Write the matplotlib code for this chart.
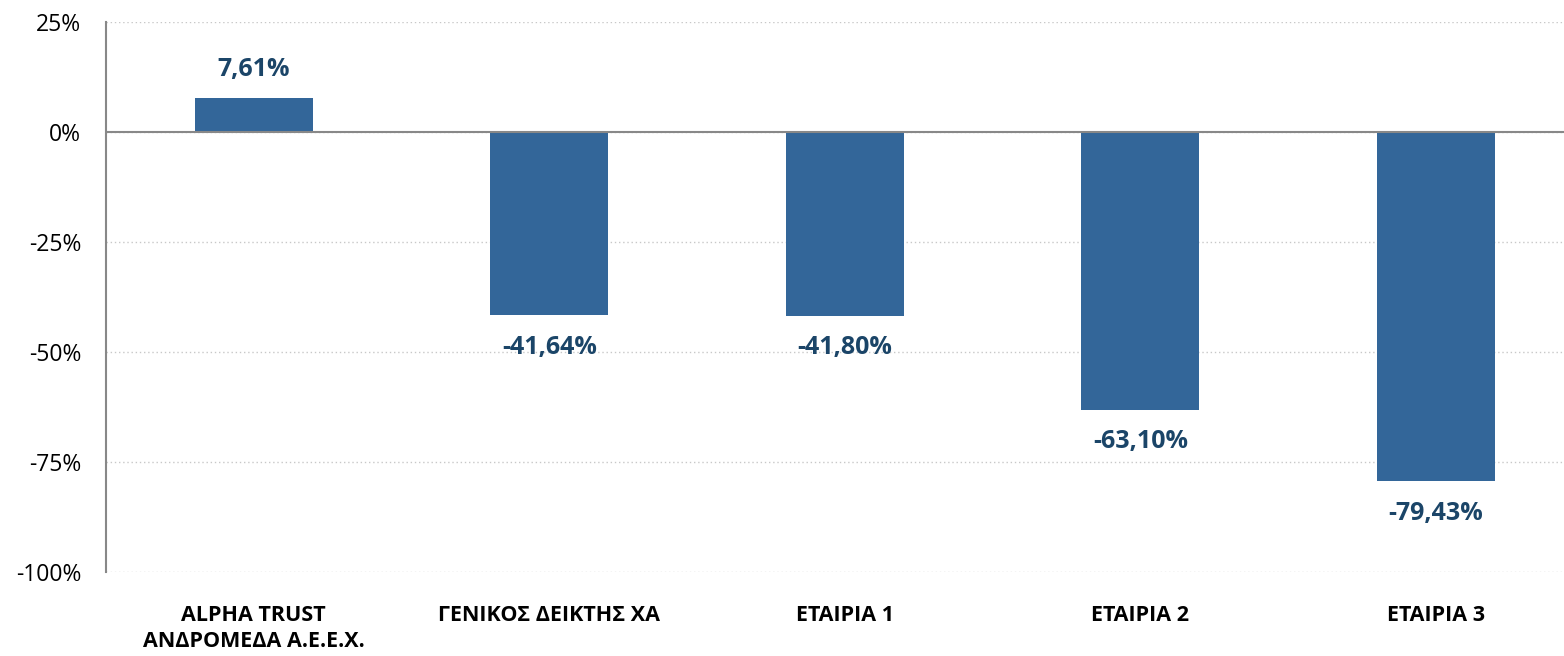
import matplotlib.pyplot as plt
from matplotlib.ticker import FuncFormatter

# Returns per company / index
categories = ['ALPHA TRUST\nΑΝΔΡΟΜΕΔΑ Α.Ε.Ε.Χ.', 'ΓΕΝΙΚΟΣ ΔΕΙΚΤΗΣ ΧΑ', 'ΕΤΑΙΡΙΑ 1', 'ΕΤΑΙΡΙΑ 2', 'ΕΤΑΙΡΙΑ 3']
returns = [7.61, -41.64, -41.80, -63.10, -79.43]
y_ticks = [25, 0, -25, -50, -75, -100]

plt.rcParams['font.family'] = ['Open Sans', 'DejaVu Sans']

fig = plt.figure(figsize=(15.64, 6.56), dpi=100)
# axes runs a bit past the right edge, like the original
ax = fig.add_axes([0.0678, 0.128, 0.9447, 0.8387])

x = range(len(categories))
bars = ax.bar(x, returns, width=0.40, color='#336699', zorder=3)

# value labels
for xi, v in zip(x, returns):
    txt = f'{v:.2f}%'.replace('.', ',')
    if v >= 0:
        ax.annotate(txt, (xi, v), xytext=(0, 12), textcoords='offset points',
                    ha='center', va='bottom', fontsize=18, fontweight='bold', color='#1B4568')
    else:
        ax.annotate(txt, (xi, v), xytext=(0, -14), textcoords='offset points',
                    ha='center', va='top', fontsize=18, fontweight='bold', color='#1B4568')

ax.set_xlim(-0.5, len(categories) - 0.5)
ax.set_ylim(-100, 25)
ax.set_yticks(y_ticks)
ax.yaxis.set_major_formatter(FuncFormatter(lambda v, p: f'{v:.0f}%'))
ax.grid(axis='y', color='#c8c8c8', linestyle=(0, (1, 2)), linewidth=1, zorder=0)
ax.axhline(0, color='#888888', linewidth=1.5, zorder=4)

ax.set_xticks(list(x))
ax.set_xticklabels(categories, fontsize=15.5, fontweight='bold', linespacing=1.3, va='top')
ax.tick_params(axis='x', length=0, pad=24)
ax.tick_params(axis='y', length=0, pad=18, labelsize=16.5)

for s in ['top', 'right', 'bottom']:
    ax.spines[s].set_visible(False)
ax.spines['left'].set_color('#888888')
ax.spines['left'].set_linewidth(1.5)

fig.savefig('out.png', dpi=100)
